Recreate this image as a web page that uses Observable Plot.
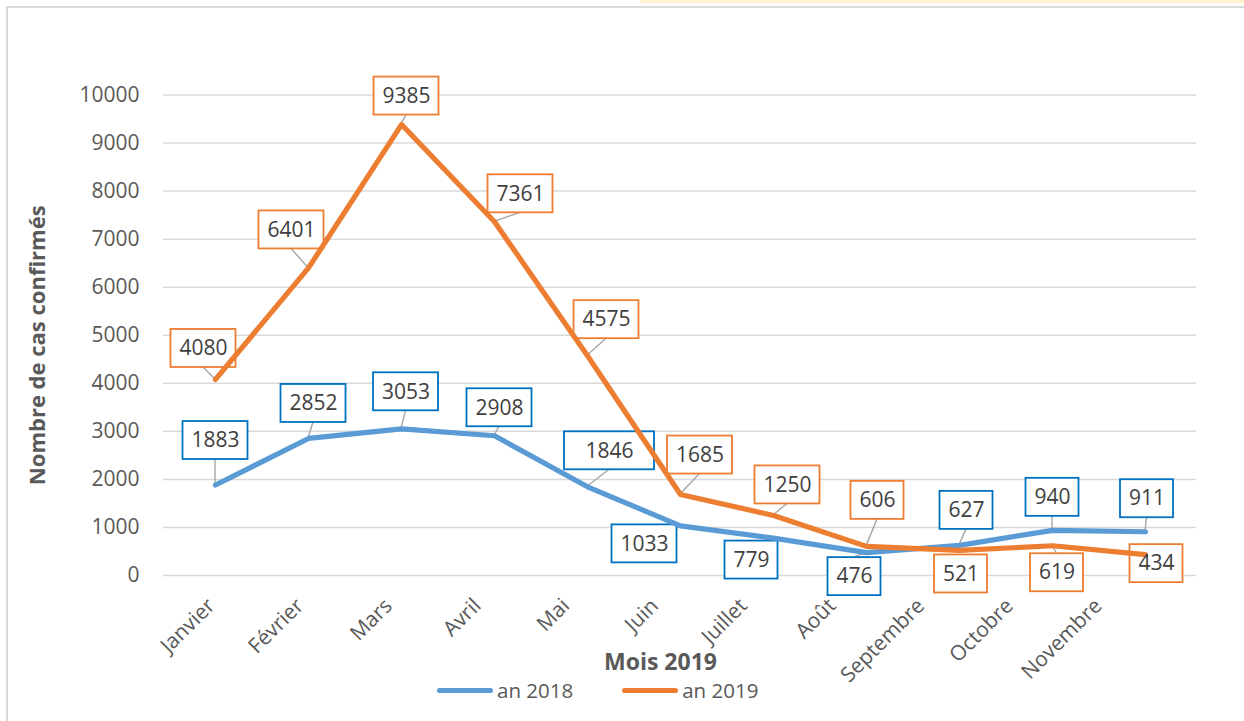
<!DOCTYPE html>
<html>
<head>
<meta charset="utf-8">
<script src="https://cdn.jsdelivr.net/npm/d3@7"></script>
<script src="https://cdn.jsdelivr.net/npm/@observablehq/plot@0.6"></script>
<style>
  html, body { margin: 0; padding: 0; background: #ffffff; }
  #wrap { position: relative; width: 1244px; height: 721px; overflow: hidden; font-family: "Open Sans", sans-serif; }
  #strip { position: absolute; left: 640px; top: 0; width: 604px; height: 3px; background: #fff2cc; }
  #btop { position: absolute; left: 7px; top: 6px; width: 1237px; height: 1.5px; background: #d9d9d9; }
  #bleft { position: absolute; left: 6px; top: 6px; width: 1.5px; height: 715px; background: #d9d9d9; }
  #legend { position: absolute; top: 676px; left: 437px; display: flex; align-items: center; font-size: 20.5px; color: #595959; }
  .sw { display: inline-block; width: 56px; height: 5px; border-radius: 3px; margin-right: 4px; }
</style>
</head>
<body>
<div id="wrap">
  <div id="chart"></div>
  <div id="strip"></div>
  <div id="btop"></div>
  <div id="bleft"></div>
  <div id="legend"></div>
</div>
<script>
// ---- data ----
const months = ["Janvier","Février","Mars","Avril","Mai","Juin","Juillet","Août","Septembre","Octobre","Novembre"];
const cases2018 = [1883, 2852, 3053, 2908, 1846, 1033, 779, 476, 627, 940, 911];
const cases2019 = [4080, 6401, 9385, 7361, 4575, 1685, 1250, 606, 521, 619, 434];
const seriesNames = ["an 2018", "an 2019"];
const yTicks = [0, 1000, 2000, 3000, 4000, 5000, 6000, 7000, 8000, 9000, 10000];
const yTitle = "Nombre de cas confirmés";
const xTitle = "Mois 2019";

// ---- layout (label box offsets in px: dx, dy, extra width) ----
const layout2018 = [[0,-44.5,0],[5,-35,0],[4.5,-37,0],[5,-28,0],[22,-36,25],[-36,18,0],[-22,22,0],[-12,24,0],[7,-35,0],[0,-33,0],[1.5,-33,0]];
const layout2019 = [[-12,-31,0],[-17,-38,0],[5,-28.5,0],[26,-28,0],[19,-36,0],[19.5,-39.5,0],[14,-30.5,0],[11,-46,0],[1.5,23.5,0],[4.5,27,0],[11,9,0]];

const colors = {line2018: "#5b9bd5", line2019: "#ed7d31", box2018: "#0070c0", box2019: "#ed7d31"};
const FONT = "'Open Sans', sans-serif";
const FS = 21;

function labelMarks(values, lay, cls) {
  return values.map((v, i) => Plot.text([i], {
    x: () => months[i], y: () => v, text: () => String(v),
    dx: lay[i][0], dy: lay[i][1],
    textAnchor: "middle", lineAnchor: "middle",
    fontSize: FS, fill: "#404040", className: cls
  }));
}

const svg = Plot.plot({
  width: 1244, height: 721,
  marginLeft: 163, marginRight: 48, marginTop: 94.5, marginBottom: 146,
  style: {fontFamily: FONT, fontSize: "20px", color: "#595959", background: "transparent", overflow: "visible"},
  x: {type: "point", domain: months, padding: 0.5, axis: null},
  y: {domain: [0, 10000], axis: null},
  marks: [
    Plot.ruleY(yTicks, {stroke: "#d9d9d9", strokeWidth: 1.5}),
    Plot.text(yTicks, {frameAnchor: "left", y: d => d, text: d => String(d), textAnchor: "end", dx: -24, fontSize: FS, fill: "#595959"}),
    ...months.map((m, i) => Plot.text([m], {x: d => d, y: () => 0, text: d => d, rotate: -45, textAnchor: "end", lineAnchor: "top", dx: -10 - 4.3 * i, dy: 21, fontSize: FS, fill: "#595959"})),
    Plot.text([yTitle], {frameAnchor: "left", rotate: -90, dx: -126, dy: 10, text: d => d, textAnchor: "middle", fontSize: 22, fontWeight: "bold", fill: "#595959", lineAnchor: "middle"}),
    Plot.text([xTitle], {frameAnchor: "bottom", dx: -19.5, dy: 87, text: d => d, textAnchor: "middle", fontSize: 23, fontWeight: "bold", fill: "#595959", lineAnchor: "middle"}),
    Plot.line(cases2018, {x: (d, i) => months[i], y: d => d, stroke: colors.line2018, strokeWidth: 5.2, strokeLinecap: "round", strokeLinejoin: "round", className: "series-lines"}),
    Plot.line(cases2019, {x: (d, i) => months[i], y: d => d, stroke: colors.line2019, strokeWidth: 5.2, strokeLinecap: "round", strokeLinejoin: "round", className: "series-lines2"}),
    ...labelMarks(cases2018, layout2018, "lbl2018"),
    ...labelMarks(cases2019, layout2019, "lbl2019")
  ]
});
document.getElementById("chart").append(svg);

// scales
function getScales() {
  const sx = svg.scale("x"), sy = svg.scale("y");
  let fx, fy;
  if (sx && typeof sx.apply === "function") fx = v => sx.apply(v);
  else fx = d3.scalePoint().domain(months).range(sx.range).padding(0.5);
  if (sy && typeof sy.apply === "function") fy = v => sy.apply(v);
  else fy = d3.scaleLinear().domain(sy.domain).range(sy.range);
  return [fx, fy];
}
const [fx, fy] = getScales();

// boxes + leaders under the lines
const ns = "http://www.w3.org/2000/svg";
const boxG = document.createElementNS(ns, "g");
const lineG = svg.querySelector("g.series-lines") || svg.querySelector("path").parentNode;
svg.insertBefore(boxG, lineG);

function addBoxes(values, lay, cls, color) {
  values.forEach((v, i) => {
    const px = fx(months[i]), py = fy(v);
    const cx = px + lay[i][0], cy = py + lay[i][1];
    const digits = String(v).length;
    const w = (digits === 4 ? 65 : 53) + lay[i][2], h = 38;
    const top = cy - h / 2, bot = cy + h / 2;
    let lx = null, ly = null;
    if (bot < py - 3) { lx = cx; ly = bot; }
    else if (top > py + 3) { lx = cx; ly = top; }
    if (lx !== null && Math.hypot(lx - px, ly - py) > 8) {
      const l = document.createElementNS(ns, "line");
      l.setAttribute("x1", lx); l.setAttribute("y1", ly);
      l.setAttribute("x2", px); l.setAttribute("y2", py);
      l.setAttribute("stroke", "#a6a6a6"); l.setAttribute("stroke-width", 1.4);
      boxG.appendChild(l);
    }
    const r = document.createElementNS(ns, "rect");
    r.setAttribute("x", cx - w / 2); r.setAttribute("y", top);
    r.setAttribute("width", w); r.setAttribute("height", h);
    r.setAttribute("fill", "#ffffff"); r.setAttribute("stroke", color); r.setAttribute("stroke-width", 1.8);
    boxG.appendChild(r);
  });
}
addBoxes(cases2018, layout2018, "lbl2018", colors.box2018);
addBoxes(cases2019, layout2019, "lbl2019", colors.box2019);

// legend
const legend = document.getElementById("legend");
[[seriesNames[0], colors.line2018], [seriesNames[1], colors.line2019]].forEach(([name, c], k) => {
  const sw = document.createElement("span");
  sw.className = "sw"; sw.style.background = c;
  if (k === 1) sw.style.marginLeft = "49px";
  const t = document.createElement("span");
  t.textContent = name;
  legend.appendChild(sw); legend.appendChild(t);
});
</script>
</body>
</html>
